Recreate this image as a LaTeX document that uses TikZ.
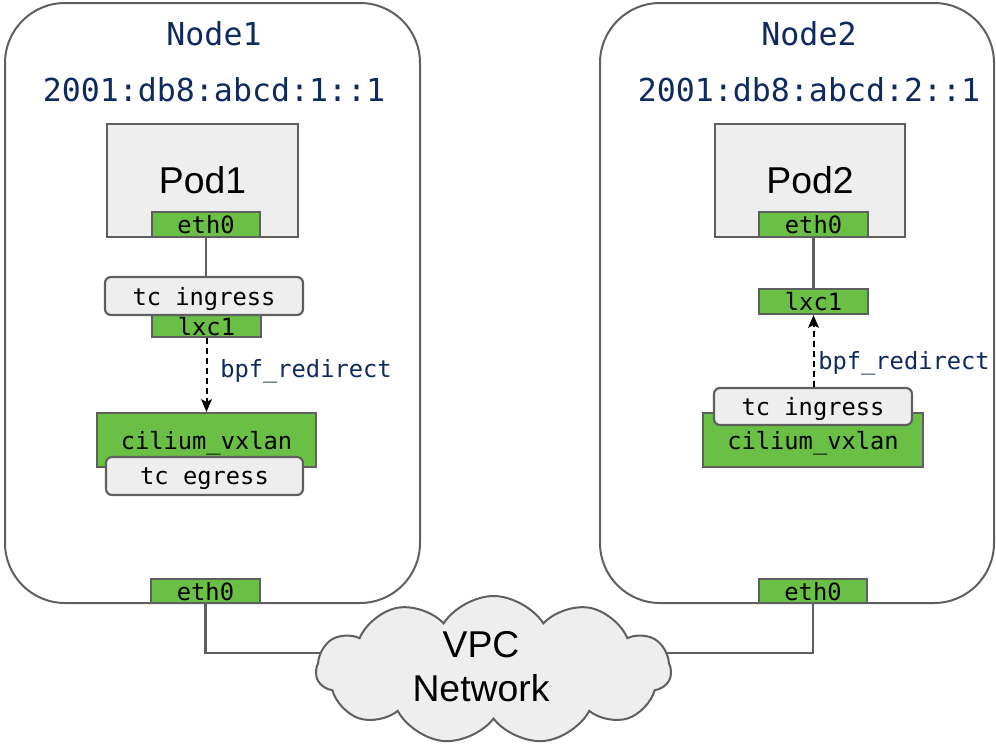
\documentclass[tikz,border=0pt]{standalone}
\usepackage{fontspec}
\setmainfont{Liberation Sans}
\setmonofont{DejaVu Sans Mono}
\usetikzlibrary{shapes.symbols,arrows.meta}
\definecolor{vgreen}{HTML}{6ABF45}
\definecolor{vgray}{HTML}{EEEEEE}
\definecolor{vline}{HTML}{5F5F5F}
\definecolor{vnavy}{HTML}{0E2A5E}
\begin{document}
\begin{tikzpicture}[x=0.75pt,y=-0.75pt,
  hostbox/.style={draw=vline,line width=1.5pt,rounded corners=45pt,inner sep=0pt},
  podbox/.style={draw=vline,fill=vgray,line width=1.6pt,inner sep=0pt,font=\fontsize{28}{30}\selectfont},
  ifbox/.style={draw=vline,fill=vgreen,line width=1.6pt,inner sep=0pt,text depth=0pt,font=\ttfamily\fontsize{17.8}{19}\selectfont},
  tcbox/.style={draw=vline,fill=vgray,line width=1.6pt,rounded corners=4.5pt,inner sep=0pt,text depth=0pt,font=\ttfamily\fontsize{17.8}{19}\selectfont},
  title/.style={text=vnavy,inner sep=0pt,anchor=base,font=\ttfamily\fontsize{23.7}{26}\selectfont},
  lbl/.style={text=vnavy,inner sep=0pt,anchor=base west,font=\ttfamily\fontsize{17.8}{19}\selectfont},
  wire/.style={draw=vline,line width=1.6pt},
  redirect/.style={draw=black,line width=1.5pt,dash pattern=on 4.5pt off 3pt,-{Stealth[length=9.5pt,width=8pt,inset=2pt]}},
  vpcstyle/.style={cloud,draw=vline,fill=vgray,line width=1.5pt,cloud puffs=11,cloud puff arc=115,aspect=2.4,inner sep=0pt,minimum width=355*0.75pt,minimum height=148*0.75pt},
  vpctext/.style={align=center,inner sep=0pt,font=\fontsize{28}{33}\selectfont}
]
\useasboundingbox (0,0) rectangle (996,746);

% hosts
\node[hostbox,minimum width=415*0.75pt,minimum height=600*0.75pt] (host1) at (212.5,303) {};
\node[hostbox,minimum width=394*0.75pt,minimum height=600*0.75pt] (host2) at (797,303) {};

\node[title] (name1) at (214,45) {Node1};
\node[title] (ip1) at (214,101.5) {2001:db8:abcd:1::1};
\node[title] (name2) at (809,45) {Node2};
\node[title] (ip2) at (809,101.5) {2001:db8:abcd:2::1};

% pods
\node[podbox,minimum width=191*0.75pt,minimum height=113*0.75pt] (pod1) at (202.5,180.5) {Pod1};
\node[ifbox,minimum width=108*0.75pt,minimum height=25*0.75pt] (pe1) at (206,224.5) {eth0};
\node[podbox,minimum width=190*0.75pt,minimum height=113*0.75pt] (pod2) at (810,180.5) {Pod2};
\node[ifbox,minimum width=109*0.75pt,minimum height=25*0.75pt] (pe2) at (813.5,224.5) {eth0};

% node1 datapath
\node[ifbox,minimum width=109*0.75pt,minimum height=22*0.75pt] (lxa) at (206.5,326) {lxc1};
\node[tcbox,minimum width=198*0.75pt,minimum height=38*0.75pt] (tci1) at (204,296) {tc ingress};
\node[ifbox,minimum width=219*0.75pt,minimum height=54*0.75pt] (vx1) at (206.5,440) {cilium\_vxlan};
\node[tcbox,minimum width=197*0.75pt,minimum height=38*0.75pt] (tce1) at (204.5,476) {tc egress};

\draw[wire] (pe1.south) -- (pe1.south |- tci1.north);
\draw[redirect] (lxa.south) -- (lxa.south |- vx1.north);
\node[lbl] (br1) at (220,377) {bpf\_redirect};

% node2 datapath
\node[ifbox,minimum width=109*0.75pt,minimum height=25*0.75pt] (lxb) at (813.5,301.5) {lxc1};
\node[ifbox,minimum width=220*0.75pt,minimum height=54*0.75pt] (vx2) at (813,440) {cilium\_vxlan};
\node[tcbox,minimum width=198*0.75pt,minimum height=37*0.75pt] (tci2) at (813,406.5) {tc ingress};

\draw[wire] (pe2.south) -- (pe2.south |- lxb.north);
\draw[redirect] (lxb.south |- tci2.north) -- (lxb.south);
\node[lbl] (br2) at (818,369) {bpf\_redirect};

% host interfaces
\node[ifbox,minimum width=109*0.75pt,minimum height=24*0.75pt] (he1) at (205.5,591) {eth0};
\node[ifbox,minimum width=108*0.75pt,minimum height=24*0.75pt] (he2) at (813,591) {eth0};

% network
\coordinate (vpcin) at (493,653);
\draw[wire] (he1.south) |- (vpcin);
\draw[wire] (he2.south) |- (vpcin);
\node[vpcstyle] (vpc) at (493.5,670) {};
\node[vpctext] (vpclabel) at (481,667) {VPC\\Network};
\end{tikzpicture}
\end{document}
